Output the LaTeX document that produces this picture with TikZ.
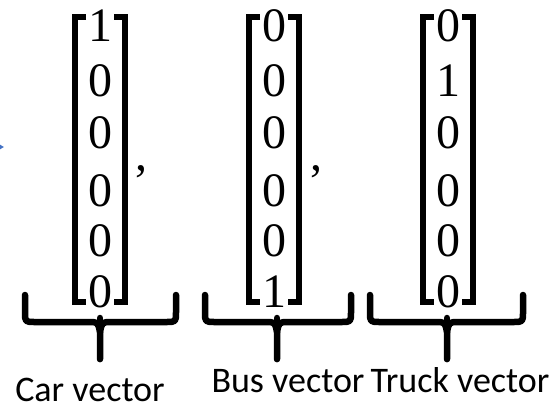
\documentclass[tikz,border=0pt]{standalone}
\usepackage{fontspec}
\newfontfamily\labelfont{Carlito}
\newfontfamily\digitfont{Liberation Serif}
\usetikzlibrary{arrows.meta}
\definecolor{arrowblue}{RGB}{68,114,196}

\tikzset{
  digit/.style={inner sep=0pt,font=\digitfont\fontsize{48}{48}\selectfont},
  bracket/.style={line width=5.5pt},
  vbrace/.style={line width=6.5pt,line cap=round,line join=round},
  caption/.style={inner sep=0pt,anchor=base,font=\labelfont\fontsize{36}{36}\selectfont}
}

\begin{document}
\begin{tikzpicture}[x=1pt,y=-1pt]
  \useasboundingbox (0,0) rectangle (553,407);

  % arrow coming in from the left
  \coordinate (arrow-tail) at (-40,147);
  \coordinate (arrow-tip) at (4,147);
  \draw[arrowblue,line width=2pt,-{Triangle[length=9pt,width=10pt]}] (arrow-tail) -- (arrow-tip);

  % one-hot vectors
  \foreach \v/\x/\one in {car/100/1,bus/274/6,truck/448/2}{
    \foreach \r/\y in {1/26,2/81,3/133,4/191,5/241,6/292}{
      \node[digit] (\v-\r) at (\x,\y) {\ifnum\r=\one\relax 1\else 0\fi};
    }
    \draw[bracket] ({\x-14},17) -- ({\x-25},17) -- ({\x-25},302) -- ({\x-14},302);
    \draw[bracket] ({\x+14},17) -- ({\x+25},17) -- ({\x+25},302) -- ({\x+14},302);
  }
  \node[digit,anchor=base] (comma-1) at (141,170) {,};
  \node[digit,anchor=base] (comma-2) at (316,170) {,};

  % braces under the vectors
  \foreach \v/\l/\c/\r in {car/25/100/176,bus/205/277/351,truck/370/447/523}{
    \draw[vbrace] (\l,295) -- (\l,312) .. controls (\l,322) .. ({\l+10},322)
      -- ({\c-12},322) .. controls ({\c-2},322) .. (\c,332) -- (\c,359);
    \draw[vbrace] (\r,295) -- (\r,312) .. controls (\r,322) .. ({\r-10},322)
      -- ({\c+12},322) .. controls ({\c+2},322) .. (\c,332);
    \draw[vbrace] (\c,318) -- (\c,359);
  }

  \node[caption] (car-label) at (90,401) {Car vector};
  \node[caption] (bus-label) at (288,392) {Bus vector};
  \node[caption] (truck-label) at (460,392) {Truck vector};
\end{tikzpicture}
\end{document}
